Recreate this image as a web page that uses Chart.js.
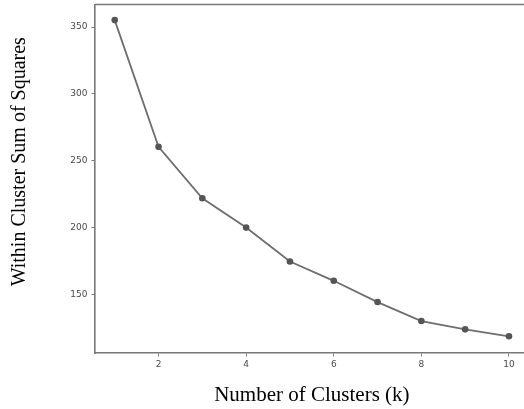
<!DOCTYPE html>
<html><head><meta charset="utf-8">
<script src="https://cdn.jsdelivr.net/npm/chart.js@4/dist/chart.umd.min.js"></script>
<style>
html,body{margin:0;padding:0;overflow:hidden;background:#fff;width:524px;height:409px;}
#wrap{position:absolute;left:0;top:0;width:540px;height:409px;}
</style></head>
<body>
<div id="wrap"><canvas id="c" width="540" height="409"></canvas></div>
<script>
const clusters = [1,2,3,4,5,6,7,8,9,10];
const wcss = [355.2,260.4,221.9,200.0,174.6,160.2,144.3,130.1,123.9,118.7];
const xTicks = [2,4,6,8,10];
const yTicks = [150,200,250,300,350];
const xTitle = 'Number of Clusters (k)';
const yTitle = 'Within Cluster Sum of Squares';

const spine = '#777777';
const extras = {
  id:'extras',
  afterDraw(chart){
    const {ctx, chartArea:a} = chart;
    ctx.save();
    ctx.strokeStyle = spine; ctx.lineWidth = 1.6;
    ctx.beginPath(); ctx.moveTo(a.left, a.top); ctx.lineTo(a.right, a.top); ctx.stroke();
    // y-axis title
    ctx.translate(19.5, (a.top + a.bottom)/2 - 17);
    ctx.rotate(-Math.PI/2);
    ctx.fillStyle = '#000';
    ctx.font = '20px "Liberation Serif"';
    ctx.textAlign = 'center'; ctx.textBaseline = 'middle';
    ctx.fillText(yTitle, 0, 0);
    ctx.restore();
  }
};

new Chart(document.getElementById('c'), {
  type:'line',
  data:{datasets:[{
    data: clusters.map((k,i)=>({x:k,y:wcss[i]})),
    borderColor:'#6e6e6e', borderWidth:1.8,
    pointBackgroundColor:'#555555', pointBorderColor:'#555555',
    pointRadius:3.3, pointBorderWidth:0, tension:0
  }]},
  options:{
    responsive:false, animation:false,
    devicePixelRatio:1,
    layout:{padding:{left:0,right:11.3,top:4,bottom:0}},
    plugins:{legend:{display:false},tooltip:{enabled:false}},
    scales:{
      x:{type:'linear', min:0.55, max:10.45,
        afterBuildTicks(s){ s.ticks = xTicks.map(v=>({value:v})); },
        afterFit(s){ s.height = 56; },
        grid:{drawOnChartArea:false, drawTicks:true, tickLength:3.5, color:spine, lineWidth:1},
        border:{display:true, color:spine, width:1.6},
        ticks:{padding:3, color:'#4a4a4a', font:{family:'DejaVu Sans', size:9}, maxRotation:0},
        title:{display:true, text:xTitle, color:'#000', font:{family:'Liberation Serif', size:21}, padding:{top:0,bottom:1}}
      },
      y:{type:'linear', min:106.2, max:366.9,
        afterBuildTicks(s){ s.ticks = yTicks.map(v=>({value:v})); },
        afterFit(s){ s.width = 95; },
        grid:{drawOnChartArea:false, drawTicks:true, tickLength:3.5, color:spine, lineWidth:1},
        border:{display:true, color:spine, width:1.6},
        ticks:{padding:4, color:'#4a4a4a', font:{family:'DejaVu Sans', size:9, lineHeight:0.1}}
      }
    }
  },
  plugins:[extras]
});
</script>
</body></html>
